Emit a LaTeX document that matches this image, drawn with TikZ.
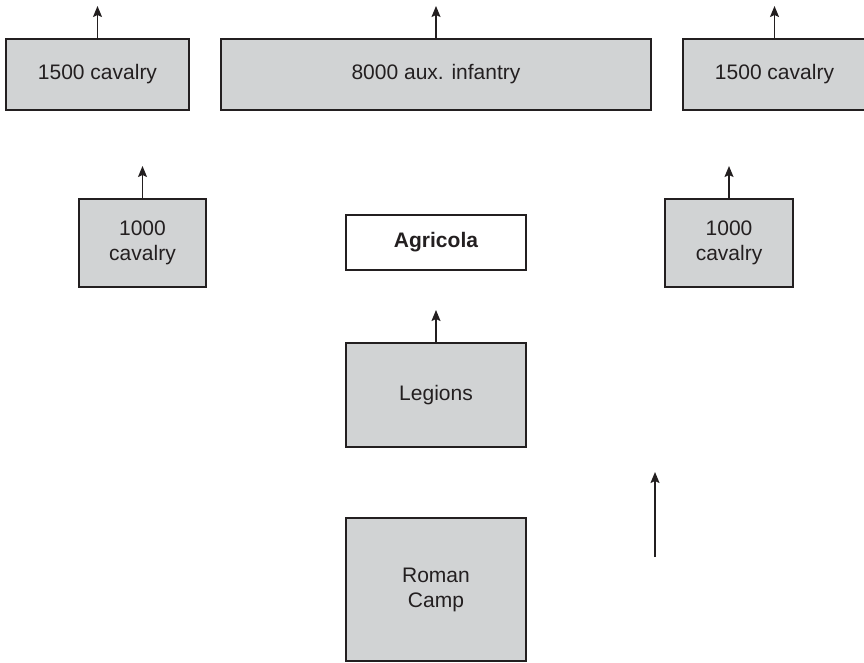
\documentclass[tikz,border=0pt]{standalone}
\usepackage{fontspec}
\setmainfont{Liberation Sans}
\usetikzlibrary{arrows.meta}
\definecolor{boxgray}{HTML}{D1D3D4}
\definecolor{linegray}{HTML}{231F20}
\begin{document}
\begin{tikzpicture}[x=1pt,y=-1pt,
  box/.style={draw=linegray, line width=1.3pt, fill=boxgray, rectangle, inner sep=0pt, outer sep=0pt, align=center, font=\fontsize{21}{25}\selectfont, text=linegray},
  wbox/.style={box, fill=white, font=\fontsize{21}{25}\selectfont\bfseries},
  arr/.style={draw=linegray, line width=1.3pt, -{Stealth[length=11pt,width=9pt,inset=2pt]}}]
\useasboundingbox (0,0) rectangle (864,662);
\node[box, minimum width=183pt, minimum height=71pt] (c15L) at (97.5,74.5) {1500 cavalry};
\node[box, minimum width=430pt, minimum height=71pt] (aux) at (436,74.5) {8000 aux. infantry};
\node[box, minimum width=183pt, minimum height=71pt] (c15R) at (774.5,74.5) {1500 cavalry};
\node[box, minimum width=127pt, minimum height=88pt] (c10L) at (142.5,243) {1000\\cavalry};
\node[wbox, minimum width=180pt, minimum height=55pt] (agr) at (436,242.5) {Agricola};
\node[box, minimum width=128pt, minimum height=88pt] (c10R) at (729,243) {1000\\cavalry};
\node[box, minimum width=180pt, minimum height=104pt] (leg) at (436,395) {Legions};
\node[box, minimum width=180pt, minimum height=143pt] (camp) at (436,589.5) {Roman\\Camp};
\coordinate (t15L) at (97.5,6);
\coordinate (taux) at (436,6);
\coordinate (t15R) at (774.5,6);
\coordinate (t10L) at (142.5,166);
\coordinate (t10R) at (729,166);
\coordinate (tleg) at (436,310);
\coordinate (fs) at (655,557);
\coordinate (fe) at (655,472);
\draw[arr] (c15L.north) -- (t15L);
\draw[arr] (aux.north) -- (taux);
\draw[arr] (c15R.north) -- (t15R);
\draw[arr] (c10L.north) -- (t10L);
\draw[arr] (c10R.north) -- (t10R);
\draw[arr] (leg.north) -- (tleg);
\draw[arr] (fs) -- (fe);
\end{tikzpicture}
\end{document}
